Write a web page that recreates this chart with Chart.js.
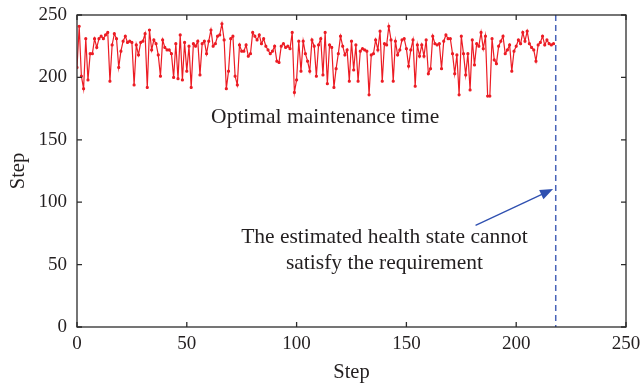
<!DOCTYPE html>
<html>
<head>
<meta charset="utf-8">
<script src="https://cdn.jsdelivr.net/npm/chart.js@4.4.1/dist/chart.umd.min.js"></script>
<style>
  html, body { margin: 0; padding: 0; background: #fff; }
  #chart { display: block; }
</style>
</head>
<body>
<canvas id="chart" width="641" height="389"></canvas>
<script>
// valores (un punto por paso, desde el paso 0)
const pasosMantenimiento = [
    208, 241, 201, 191, 231, 198, 219, 219, 231, 224, 231, 233, 231, 234, 236, 197, 226, 235, 231, 208,
    221, 229, 233, 228, 229, 228, 194, 226, 218, 228, 229, 235, 192, 238, 222, 230, 227, 218, 201, 230,
    224, 222, 222, 219, 200, 227, 199, 234, 198, 228, 205, 225, 192, 227, 225, 229, 202, 227, 229, 219,
    229, 238, 225, 227, 233, 234, 243, 230, 191, 205, 231, 233, 201, 194, 226, 221, 221, 226, 217, 219,
    236, 233, 230, 234, 227, 231, 225, 222, 219, 221, 225, 213, 212, 225, 227, 224, 225, 223, 236, 188,
    198, 229, 205, 229, 219, 213, 205, 230, 225, 201, 226, 231, 202, 236, 195, 226, 224, 192, 207, 219,
    233, 225, 218, 222, 197, 229, 206, 226, 197, 221, 223, 222, 221, 186, 218, 219, 230, 222, 237, 197,
    227, 226, 241, 230, 197, 229, 218, 222, 230, 231, 223, 209, 222, 230, 193, 226, 217, 226, 217, 230,
    203, 207, 233, 227, 226, 227, 207, 229, 234, 231, 231, 219, 203, 218, 186, 233, 219, 202, 219, 190,
    230, 210, 227, 225, 236, 223, 233, 185, 185, 231, 214, 211, 225, 229, 233, 219, 222, 226, 205, 221,
    225, 230, 227, 236, 229, 237, 227, 224, 222, 213, 226, 228, 233, 226, 230, 227, 226, 227
];
const ticksX = [0, 50, 100, 150, 200, 250];
const ticksY = [0, 50, 100, 150, 200, 250];
const pasoLimite = 218;
const textoOptimo = 'Optimal maintenance time';
const textoEstado = ['The estimated health state cannot', 'satisfy the requirement'];
// posiciones de los textos y la flecha en unidades de los ejes
const posOptimo = [113, 168];
const posEstado = [140, 72];
const flechaDesde = [181.5, 81.5];
const flechaHasta = [216.8, 110.5];

const FUENTE = '"Liberation Serif", "DejaVu Serif", serif';
const COLOR_TEXTO = '#231f20';

const puntos = pasosMantenimiento.map((v, i) => ({ x: i, y: v }));

// marco, ticks hacia adentro, linea punteada y anotaciones
const decoraciones = {
    id: 'decoraciones',
    afterDraw(chart) {
        const { ctx, chartArea: a, scales: { x, y } } = chart;
        ctx.save();

        // linea punteada del limite
        const xl = x.getPixelForValue(pasoLimite);
        ctx.strokeStyle = '#4863b8';
        ctx.lineWidth = 1.5;
        ctx.setLineDash([6, 4]);
        ctx.beginPath();
        ctx.moveTo(xl, y.getPixelForValue(250));
        ctx.lineTo(xl, y.getPixelForValue(0));
        ctx.stroke();
        ctx.setLineDash([]);

        // marco
        ctx.strokeStyle = '#2b2b2b';
        ctx.lineWidth = 1.3;
        ctx.strokeRect(a.left, a.top, a.right - a.left, a.bottom - a.top);

        // ticks
        const largo = 5;
        ctx.beginPath();
        ticksX.forEach(t => {
            const px = x.getPixelForValue(t);
            ctx.moveTo(px, a.bottom); ctx.lineTo(px, a.bottom - largo);
            ctx.moveTo(px, a.top); ctx.lineTo(px, a.top + largo);
        });
        ticksY.forEach(t => {
            const py = y.getPixelForValue(t);
            ctx.moveTo(a.left, py); ctx.lineTo(a.left + largo, py);
            ctx.moveTo(a.right, py); ctx.lineTo(a.right - largo, py);
        });
        ctx.stroke();

        // textos
        ctx.fillStyle = COLOR_TEXTO;
        ctx.font = '21.5px ' + FUENTE;
        ctx.textAlign = 'center';
        ctx.textBaseline = 'middle';
        ctx.fillText(textoOptimo, x.getPixelForValue(posOptimo[0]), y.getPixelForValue(posOptimo[1]));
        const ex = x.getPixelForValue(posEstado[0]);
        const ey = y.getPixelForValue(posEstado[1]);
        ctx.fillText(textoEstado[0], ex, ey);
        ctx.fillText(textoEstado[1], ex, ey + 26);

        // flecha
        const x0 = x.getPixelForValue(flechaDesde[0]), y0 = y.getPixelForValue(flechaDesde[1]);
        const x1 = x.getPixelForValue(flechaHasta[0]), y1 = y.getPixelForValue(flechaHasta[1]);
        const ang = Math.atan2(y1 - y0, x1 - x0);
        ctx.strokeStyle = '#2f50b0';
        ctx.fillStyle = '#2f50b0';
        ctx.lineWidth = 1.3;
        ctx.beginPath();
        ctx.moveTo(x0, y0);
        ctx.lineTo(x1 - 10 * Math.cos(ang), y1 - 10 * Math.sin(ang));
        ctx.stroke();
        ctx.beginPath();
        ctx.moveTo(x1, y1);
        ctx.lineTo(x1 - 13 * Math.cos(ang) + 5 * Math.sin(ang), y1 - 13 * Math.sin(ang) - 5 * Math.cos(ang));
        ctx.lineTo(x1 - 13 * Math.cos(ang) - 5 * Math.sin(ang), y1 - 13 * Math.sin(ang) + 5 * Math.cos(ang));
        ctx.closePath();
        ctx.fill();

        ctx.restore();
    }
};

new Chart(document.getElementById('chart').getContext('2d'), {
    type: 'line',
    data: {
        datasets: [{
            data: puntos,
            borderColor: '#ec1c24',
            backgroundColor: '#ec1c24',
            borderWidth: 1.2,
            pointRadius: 1,
            pointHoverRadius: 0,
            tension: 0,
            fill: false
        }]
    },
    options: {
        responsive: false,
        animation: false,
        devicePixelRatio: 1,
        layout: { padding: { top: 15, right: 15, left: 0, bottom: 0 } },
        plugins: { legend: { display: false }, tooltip: { enabled: false } },
        scales: {
            x: {
                type: 'linear',
                min: 0, max: 250,
                grid: { display: false, drawTicks: false },
                border: { display: false },
                afterBuildTicks: s => { s.ticks = ticksX.map(v => ({ value: v })); },
                afterFit: s => { s.height = 62; s.paddingRight = 0; s.paddingLeft = 0; },
                ticks: { color: COLOR_TEXTO, font: { family: FUENTE, size: 19 }, padding: 6, maxRotation: 0 },
                title: { display: true, text: 'Step', color: COLOR_TEXTO, font: { family: FUENTE, size: 20.5 }, padding: { top: 5 } }
            },
            y: {
                min: 0, max: 250,
                grid: { display: false, drawTicks: false },
                border: { display: false },
                afterBuildTicks: s => { s.ticks = ticksY.map(v => ({ value: v })); },
                afterFit: s => { s.width = 77; s.paddingTop = 0; s.paddingBottom = 0; },
                ticks: { color: COLOR_TEXTO, font: { family: FUENTE, size: 19 }, padding: 10 },
                title: { display: true, text: 'Step', color: COLOR_TEXTO, font: { family: FUENTE, size: 20.5 }, padding: { top: 6, bottom: 2 } }
            }
        }
    },
    plugins: [decoraciones]
});
</script>
</body>
</html>
